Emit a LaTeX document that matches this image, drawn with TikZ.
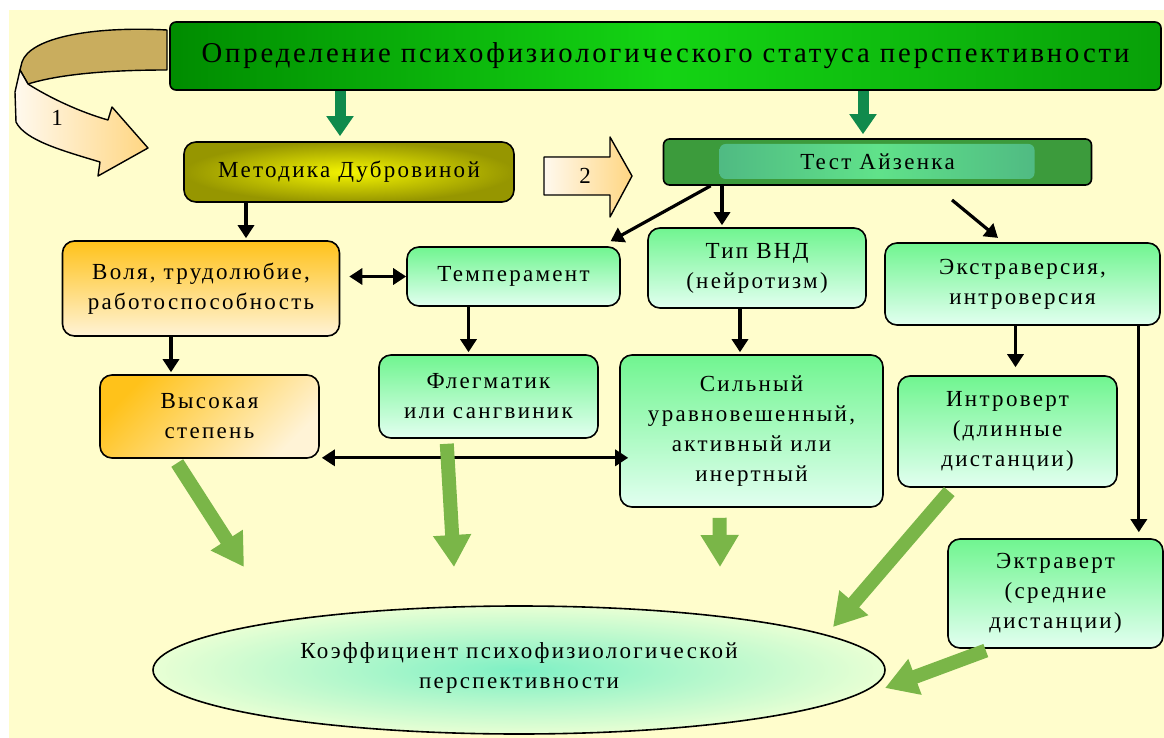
\documentclass[tikz,border=0pt]{standalone}
\usepackage{fontspec}
\setmainfont[LetterSpace=10]{Liberation Serif}
\usetikzlibrary{arrows.meta}
\usetikzlibrary{positioning}
\usetikzlibrary{calc}
\usetikzlibrary{shapes.geometric}

\definecolor{fon}{RGB}{255,253,204}
\definecolor{tg1}{RGB}{0,140,0}
\definecolor{tg2}{RGB}{20,212,20}
\definecolor{tg3}{RGB}{8,160,8}
\definecolor{ol1}{RGB}{150,150,0}
\definecolor{ol2}{RGB}{245,245,0}
\definecolor{ag1}{RGB}{60,155,60}
\definecolor{ag2}{RGB}{74,172,128}
\definecolor{ag3}{RGB}{96,226,138}
\definecolor{or1}{RGB}{255,194,26}
\definecolor{or2}{RGB}{255,243,214}
\definecolor{gr1}{RGB}{112,245,144}
\definecolor{gr2}{RGB}{226,255,240}
\definecolor{el1}{RGB}{126,240,196}
\definecolor{el2}{RGB}{232,255,212}
\definecolor{dg}{RGB}{16,138,76}
\definecolor{gl}{RGB}{122,182,72}
\definecolor{ta}{RGB}{201,173,94}
\definecolor{pe1}{RGB}{255,249,238}
\definecolor{pe2}{RGB}{255,214,130}

\begin{document}
\begin{tikzpicture}[x=1pt,y=-1pt,semithick,font=\fontsize{23}{30}\selectfont]
	\tikzstyle{blok}=[draw=black,line width=1.6pt,rounded corners=12pt,align=center,inner sep=0pt]
	\tikzstyle{oranj}=[blok,top color=or1,bottom color=or2]
	\tikzstyle{zel}=[blok,top color=gr1,bottom color=gr2]
	\tikzstyle{blk}=[line width=3.2pt,-{Triangle[length=13pt,width=16pt]},shorten >=2pt]
	\tikzstyle{dbl}=[line width=3.2pt,{Triangle[length=13pt,width=16pt]}-{Triangle[length=13pt,width=16pt]}]
	\tikzstyle{fat}=[line width=14pt,draw=gl,-{Triangle[length=32pt,width=36pt]},shorten <=5pt]
	\tikzstyle{dark}=[line width=11pt,draw=dg,-{Triangle[length=20pt,width=26pt]}]
	\tikzstyle{pointer}=[draw=black,line width=1.4pt,line join=round]
	
	\useasboundingbox (0,0) rectangle (1164,738);
	\fill[white] (0,0) rectangle (1164,738);
	\fill[fon] (9,10) rectangle (1164,738);
	
	% arrows 1 and 2
	\filldraw[pointer,fill=ta] (167,30) .. controls (90,26) and (30,38) .. (22,62)
		-- (20,70) -- (28,84) .. controls (60,74) and (110,70) .. (167,70) -- cycle;
	\filldraw[pointer,left color=pe1,right color=pe2] (20,70) -- (28,84)
		.. controls (50,98) and (80,112) .. (108,120) -- (112,107) -- (148,148)
		-- (98,176) -- (100,162) .. controls (60,150) and (25,140) .. (16,122)
		-- (15,92) -- cycle;
	\node (L_1) at (57,118) {1};
	\filldraw[pointer,left color=pe1,right color=pe2] (544,157) -- (610,157) -- (610,137)
		-- (632,176) -- (610,217) -- (610,195) -- (544,195) -- cycle;
	\node (L_2) at (585,176) {2};
	
	\node[blok,rounded corners=6pt,minimum width=991pt,minimum height=68pt,
		left color=tg1,right color=tg3,middle color=tg2,
		font=\fontsize{28.7}{34}\selectfont] (B_0) at (665.5,56)
		{\raisebox{4pt}{Определение психофизиологического статуса перспективности}};
	\node[blok,minimum width=330pt,minimum height=60pt,inner color=ol2,outer color=ol1]
		(B_1) at (349,172) {Методика Дубровиной};
	\node[blok,rounded corners=6pt,minimum width=428pt,minimum height=46pt,fill=ag1,
		path picture={\fill[left color=ag2,right color=ag2,middle color=ag3]
			([xshift=56pt,yshift=-5pt]path picture bounding box.north west) rectangle
			([xshift=-57pt,yshift=6pt]path picture bounding box.south east);}]
		(B_2) at (877.5,162) {Тест Айзенка};
	
	\node[oranj,minimum width=277pt,minimum height=95pt] (B_3) at (201,288.5)
		{Воля, трудолюбие,\\работоспособность};
	\node[zel,minimum width=213pt,minimum height=59pt] (B_4) at (513.5,276.5) {Темперамент};
	\node[zel,minimum width=218pt,minimum height=80pt] (B_5) at (757,268) {Тип ВНД\\(нейротизм)};
	\node[zel,minimum width=275pt,minimum height=82pt] (B_6) at (1022.5,284)
		{Экстраверсия,\\интроверсия};
	\node[oranj,shading angle=45,minimum width=219pt,minimum height=83pt] (B_7) at (209.5,416.5)
		{Высокая\\степень};
	\node[zel,minimum width=219pt,minimum height=83pt] (B_8) at (488.5,396.5)
		{Флегматик\\или сангвиник};
	\node[zel,minimum width=263pt,minimum height=152pt] (B_9) at (751.5,431)
		{Сильный\\уравновешенный,\\активный или\\инертный};
	\node[zel,minimum width=219pt,minimum height=111pt] (B_10) at (1007.5,431.5)
		{Интроверт\\(длинные\\дистанции)};
	\node[zel,minimum width=215pt,minimum height=109pt] (B_11) at (1055.5,593.5)
		{Эктраверт\\(средние\\дистанции)};
	\node[ellipse,draw=black,line width=1.6pt,inner color=el1,outer color=el2,align=center,
		inner sep=0pt,minimum width=732pt,minimum height=128pt] (B_12) at (519,670)
		{\raisebox{9pt}{Коэффициент психофизиологической}\\\raisebox{9pt}{перспективности}};
	
	% connectors
	\draw[dark,shorten >=5pt] ([xshift=-9pt]B_1.north) coordinate (D_1) ++(0,0) (D_1 |- B_0.south) -- (D_1);
	\draw[dark,shorten >=4pt] ([xshift=-14.5pt]B_2.north) coordinate (D_2) ++(0,0) (D_2 |- B_0.south) -- (D_2);
	
	\draw[blk] ([xshift=45pt]B_3.north) coordinate (C_1) ++(0,0) (C_1 |- B_1.south) -- (C_1);
	\draw[dbl] ([xshift=9pt]B_3.east |- B_4.west) -- (B_4.west);
	\draw[blk] ([xshift=-30pt]B_3.south) coordinate (C_2) -- (C_2 |- B_7.north);
	\draw[blk] ([xshift=-20pt]B_8.north) coordinate (C_3) ++(0,0) (C_3 |- B_4.south) -- (C_3);
	\draw[dbl] ($(B_7.south east)+(2,-1)$) -- ($(B_7.south east -| B_9.west)+(9,-1)$);
	\draw[blk] ([xshift=48pt]B_2.south west) -- ([xshift=-12pt,yshift=4pt]B_4.north east);
	\draw[blk] ([xshift=-35pt]B_5.north) coordinate (C_4) ++(0,0) (C_4 |- B_2.south) -- (C_4);
	\coordinate (F_1) at (952,200);
	\draw[blk] (F_1) -- ([xshift=-23pt,yshift=3pt]B_6.north);
	\draw[blk] ([xshift=-17pt]B_5.south) coordinate (C_5) -- (C_5 |- B_9.north);
	\draw[blk,shorten >=8pt] ([xshift=-7pt]B_6.south) coordinate (C_6) -- (C_6 |- B_10.north);
	\draw[blk,shorten >=6pt] ([xshift=-22pt]B_6.south east) coordinate (C_7) -- (C_7 |- B_11.north);
	
	% green arrows into the ellipse
	\coordinate (G_1) at (244,567);
	\coordinate (G_2) at (454,567);
	\coordinate (G_3) at (720,567);
	\coordinate (G_4) at (833,627);
	\coordinate (G_5) at (885,688);
	\draw[fat] ([xshift=-35pt]B_7.south) -- (G_1);
	\draw[fat] ([xshift=-42pt]B_8.south) -- (G_2);
	\draw[fat] ([xshift=-32pt,yshift=-5pt]B_9.south) -- (G_3);
	\draw[fat] ([xshift=-55pt]B_10.south) -- (G_4);
	\draw[fat] ([xshift=-65pt]B_11.south) -- (G_5);
\end{tikzpicture}
\end{document}
